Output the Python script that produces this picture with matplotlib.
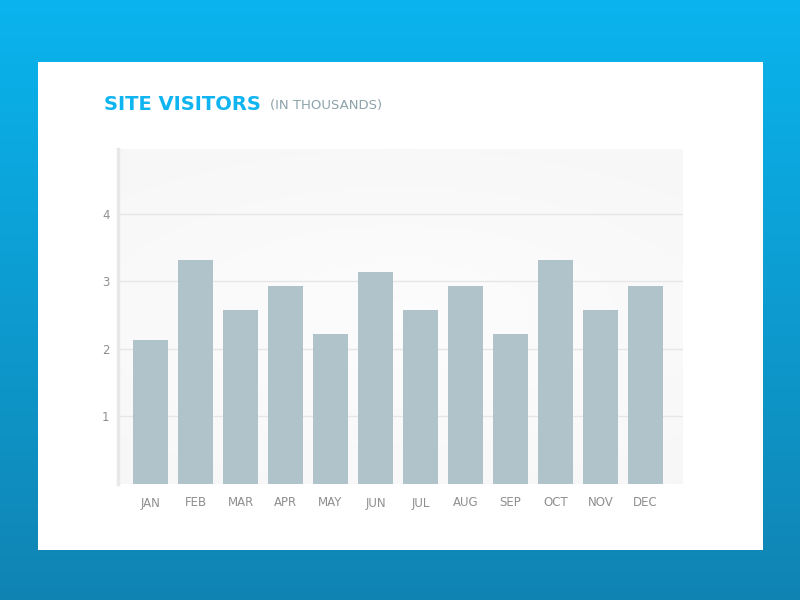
import numpy as np
import matplotlib.pyplot as plt
from matplotlib.patches import Rectangle

months = ['JAN', 'FEB', 'MAR', 'APR', 'MAY', 'JUN',
          'JUL', 'AUG', 'SEP', 'OCT', 'NOV', 'DEC']
visitors = [2.13, 3.32, 2.58, 2.93, 2.22, 3.14,
            2.58, 2.93, 2.22, 3.32, 2.58, 2.93]
yticks = [1, 2, 3, 4]

W, H = 800, 600
fig = plt.figure(figsize=(8, 6), dpi=100)

# blue gradient background
bg = fig.add_axes([0, 0, 1, 1], zorder=-10)
grad = np.linspace(0, 1, 256).reshape(-1, 1)
top = np.array([0x0a, 0xb4, 0xee]) / 255
bot = np.array([0x10, 0x84, 0xb3]) / 255
img = top + (bot - top) * grad[:, :, None]
bg.imshow(img, aspect='auto', extent=[0, 1, 0, 1], origin='upper')
bg.set_xlim(0, 1)
bg.set_ylim(0, 1)
bg.axis('off')

# white card
bg.add_patch(Rectangle((38 / W, 1 - 550 / H), (763 - 38) / W, (550 - 62) / H,
                       facecolor='white', edgecolor='none'))

# title
fig.text(104 / W, 1 - 104 / H, 'SITE VISITORS', color='#0fb4f0', fontsize=14,
         fontweight='bold', family='DejaVu Sans', va='center', ha='left')
fig.text(270 / W, 1 - 105 / H, '(IN THOUSANDS)', color='#8ea3ab', fontsize=9.5,
         family='DejaVu Sans', va='center', ha='left')

# chart
ax = fig.add_axes([118 / W, 1 - 484 / H, 565 / W, 335 / H])
x = np.arange(len(months))
ax.set_xlim(-0.722, 11.83)
ax.set_ylim(0, 4.96)

# subtle radial background
yy, xx = np.mgrid[0:1:200j, 0:1:300j]
r = np.sqrt(((xx - 0.5) * 1.0) ** 2 + ((yy - 0.5) * 1.4) ** 2)
shade = 0.99 - 0.025 * np.clip(r, 0, 1)
ax.imshow(np.dstack([shade] * 3), extent=[-0.722, 11.83, 0, 4.96],
          aspect='auto', zorder=0)

ax.set_yticks(yticks)
ax.grid(axis='y', color='#e6e6e6', linewidth=1, zorder=1)
ax.bar(x, visitors, width=0.778, color='#b1c3ca', zorder=2)

ax.set_xticks(x)
ax.set_xticklabels(months, family='DejaVu Sans', fontsize=8.5, color='#8f8f8f')
ax.set_yticklabels([str(v) for v in yticks], family='DejaVu Sans', fontsize=8.5,
                   color='#8f8f8f')
ax.tick_params(length=0)
ax.tick_params(axis='y', pad=6)
ax.tick_params(axis='x', pad=9)
for s in ['top', 'right', 'bottom']:
    ax.spines[s].set_visible(False)
ax.spines['left'].set_color('#e8e8e8')
ax.spines['left'].set_linewidth(2.5)

fig.savefig('out.png', dpi=100)
